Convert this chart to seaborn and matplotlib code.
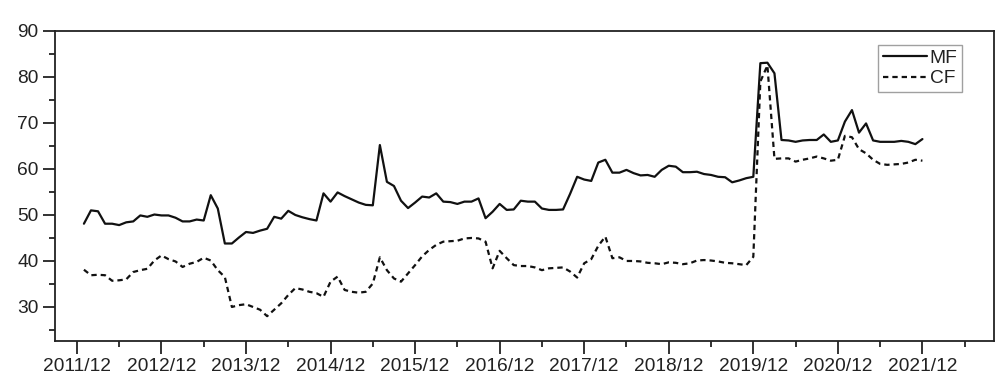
import numpy as np
import pandas as pd
import seaborn as sns
import matplotlib.pyplot as plt
from matplotlib.ticker import MultipleLocator

# monthly values, 2012/01 .. 2021/12
mf = [48.1, 51.0, 50.8, 48.1, 48.1, 47.8, 48.4, 48.6, 49.9, 49.6, 50.1, 49.9,
      49.9, 49.4, 48.6, 48.6, 49.0, 48.8, 54.3, 51.4, 43.8, 43.8, 45.1, 46.3,
      46.1, 46.6, 47.0, 49.6, 49.2, 50.9, 50.0, 49.5, 49.1, 48.8, 54.7, 52.9,
      54.9, 54.1, 53.4, 52.7, 52.2, 52.1, 65.2, 57.2, 56.3, 53.1, 51.5, 52.7,
      54.0, 53.8, 54.7, 52.9, 52.8, 52.4, 52.9, 52.9, 53.6, 49.3, 50.7, 52.4,
      51.1, 51.2, 53.1, 52.9, 52.9, 51.4, 51.1, 51.1, 51.2, 54.6, 58.3, 57.7,
      57.4, 61.4, 62.0, 59.2, 59.2, 59.8, 59.1, 58.6, 58.7, 58.3, 59.8, 60.7,
      60.5, 59.3, 59.3, 59.4, 58.9, 58.7, 58.3, 58.2, 57.1, 57.5, 58.0, 58.3,
      83.0, 83.1, 80.8, 66.3, 66.2, 65.9, 66.2, 66.3, 66.3, 67.5, 65.9, 66.2,
      70.3, 72.8, 67.9, 69.9, 66.2, 65.9, 65.9, 65.9, 66.1, 65.9, 65.4, 66.5]
cf = [38.1, 36.9, 37.0, 36.9, 35.7, 35.8, 36.0, 37.6, 38.0, 38.3, 40.1, 41.2,
      40.4, 39.9, 38.7, 39.4, 39.8, 40.7, 40.1, 38.0, 36.5, 30.0, 30.4, 30.6,
      30.0, 29.4, 28.0, 29.4, 30.8, 32.6, 34.1, 33.8, 33.3, 33.0, 32.2, 35.5,
      36.6, 33.7, 33.3, 33.1, 33.3, 35.1, 40.8, 38.0, 36.2, 35.5, 37.3, 39.1,
      41.0, 42.4, 43.5, 44.2, 44.3, 44.4, 44.9, 45.0, 44.9, 44.2, 38.4, 42.2,
      40.6, 39.1, 38.9, 38.9, 38.6, 38.0, 38.4, 38.5, 38.6, 37.7, 36.4, 39.5,
      40.4, 43.3, 45.3, 40.6, 40.8, 40.0, 40.0, 39.9, 39.6, 39.5, 39.3, 39.7,
      39.6, 39.3, 39.5, 40.1, 40.2, 40.1, 39.9, 39.6, 39.5, 39.3, 39.1, 40.9,
      79.0, 82.5, 62.2, 62.3, 62.3, 61.6, 62.0, 62.3, 62.7, 62.3, 61.8, 62.0,
      67.2, 66.9, 64.3, 63.4, 62.0, 61.1, 60.9, 61.0, 61.1, 61.4, 62.0, 61.8]
tick_labels = ['2011/12', '2012/12', '2013/12', '2014/12', '2015/12', '2016/12',
               '2017/12', '2018/12', '2019/12', '2020/12', '2021/12']

months = np.arange(1, len(mf) + 1)  # months after 2011/12
df = pd.concat([
    pd.DataFrame({'month': months, 'value': mf, 'series': 'MF'}),
    pd.DataFrame({'month': months, 'value': cf, 'series': 'CF'}),
])

sns.set_style('ticks')
plt.rcParams['font.family'] = ['Liberation Sans', 'DejaVu Sans']
plt.rcParams['text.color'] = '#222222'
plt.rcParams['xtick.color'] = '#222222'
plt.rcParams['ytick.color'] = '#222222'

fig = plt.figure(figsize=(10.08, 3.9), dpi=100)
ax = fig.add_axes([0.0546, 0.1256, 0.9318, 0.795])

sns.lineplot(data=df, x='month', y='value', style='series', color='#111111',
             dashes={'MF': '', 'CF': (2.4, 1.8)}, linewidth=1.6, ax=ax)

ax.set_xlim(-3.1, 130.2)
ax.set_ylim(22.6, 90)
ax.set_xticks(np.arange(0, 121, 12))
ax.set_xticklabels(tick_labels)
ax.xaxis.set_minor_locator(MultipleLocator(6))
ax.yaxis.set_minor_locator(MultipleLocator(5))
ax.set_yticks(np.arange(30, 91, 10))
ax.set(xlabel='', ylabel='')

for s in ax.spines.values():
    s.set_visible(True)
    s.set_color('#222222')
    s.set_linewidth(1.3)

ax.tick_params(axis='both', which='major', direction='out', length=9,
               width=1.3, labelsize=13.8, pad=3)
ax.tick_params(axis='both', which='minor', direction='out', length=4.5, width=1.3)
ax.tick_params(top=False, right=False, which='both')

leg = ax.legend(loc='upper right', bbox_to_anchor=(0.966, 0.955), fontsize=13.8,
                frameon=True, fancybox=False, handlelength=2.3,
                handletextpad=0.15, borderpad=0.25, labelspacing=0.15,
                borderaxespad=0)
leg.get_frame().set_edgecolor('#888888')
leg.get_frame().set_linewidth(1.0)
for line in leg.get_lines():
    line.set_linewidth(1.6)

fig.savefig('out.png', dpi=100)
